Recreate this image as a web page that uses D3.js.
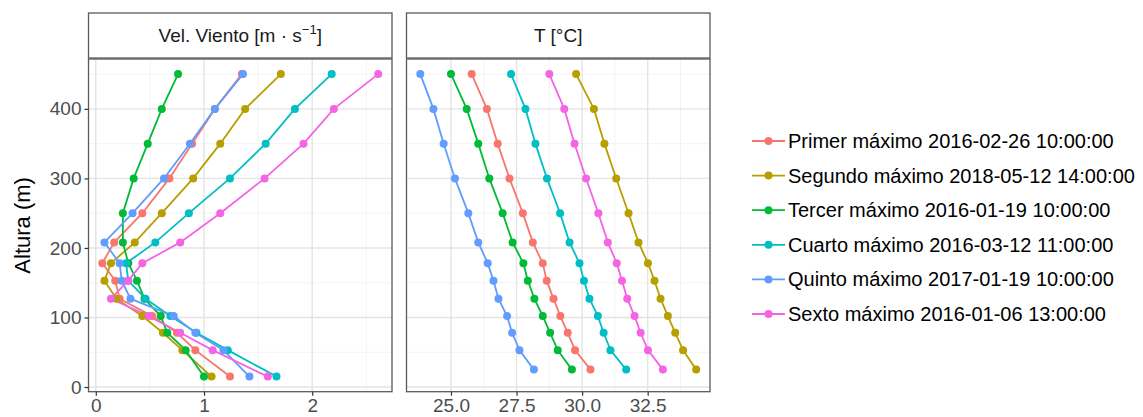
<!DOCTYPE html>
<html>
<head>
<meta charset="utf-8">
<script src="https://cdn.jsdelivr.net/npm/d3@7"></script>
<style>
  body { margin: 0; background: #fff; }
  text { font-family: "Liberation Sans", Arial, sans-serif; }
</style>
</head>
<body>
<svg width="1143" height="417"></svg>
<script>
// series names (legend order = ggplot factor order)
var series = [
	"Primer máximo 2016-02-26 10:00:00",
	"Segundo máximo 2018-05-12 14:00:00",
	"Tercer máximo 2016-01-19 10:00:00",
	"Cuarto máximo 2016-03-12 11:00:00",
	"Quinto máximo 2017-01-19 10:00:00",
	"Sexto máximo 2016-01-06 13:00:00"
];

// heights (m) of each level, top to bottom
var alturaViento = [450, 400, 350, 300, 250, 208, 178, 153, 127, 102, 78, 53, 15];
var alturaT = [450, 400, 350, 300, 250, 208, 178, 153, 127, 102, 78, 53, 25];

// wind speed [m/s] per series
var vientoPrimer = [1.35, 1.10, 0.89, 0.68, 0.43, 0.17, 0.06, 0.18, 0.22, 0.52, 0.75, 0.92, 1.24];
var vientoSegundo = [1.71, 1.38, 1.15, 0.90, 0.61, 0.36, 0.14, 0.08, 0.19, 0.43, 0.62, 0.80, 1.07];
var vientoTercer = [0.76, 0.61, 0.48, 0.35, 0.25, 0.25, 0.30, 0.38, 0.45, 0.60, 0.66, 0.83, 1.00];
var vientoCuarto = [2.18, 1.84, 1.57, 1.24, 0.86, 0.55, 0.28, 0.30, 0.46, 0.69, 0.93, 1.22, 1.67];
var vientoQuinto = [1.36, 1.10, 0.87, 0.63, 0.34, 0.08, 0.22, 0.24, 0.32, 0.72, 0.92, 1.18, 1.42];
var vientoSexto = [2.61, 2.20, 1.92, 1.56, 1.15, 0.78, 0.43, 0.30, 0.14, 0.49, 0.78, 1.08, 1.59];

// temperature [°C] per series
var tempPrimer = [25.79, 26.37, 26.78, 27.23, 27.74, 28.12, 28.50, 28.65, 28.91, 29.17, 29.45, 29.73, 30.32];
var tempSegundo = [29.77, 30.45, 30.85, 31.30, 31.77, 32.15, 32.51, 32.76, 32.99, 33.27, 33.55, 33.85, 34.35];
var tempTercer = [25.00, 25.60, 26.04, 26.46, 26.97, 27.35, 27.76, 27.93, 28.18, 28.50, 28.78, 29.07, 29.61];
var tempCuarto = [27.29, 27.84, 28.22, 28.66, 29.16, 29.52, 29.90, 30.07, 30.28, 30.60, 30.82, 31.08, 31.68];
var tempQuinto = [23.83, 24.33, 24.72, 25.15, 25.66, 26.04, 26.40, 26.62, 26.81, 27.14, 27.33, 27.61, 28.16];
var tempSexto = [28.75, 29.32, 29.71, 30.15, 30.62, 30.98, 31.32, 31.52, 31.72, 32.00, 32.23, 32.51, 33.08];

// tick values
var ticksY = [0, 100, 200, 300, 400];
var ticksViento = [0, 1, 2];
var ticksT = [25, 27.5, 30, 32.5];

function createGraph() {
	var svg = d3.select("svg");

	// ggplot default hue palette for 6 groups
	var color = d3.scaleOrdinal()
		.domain(series)
		.range(["#F8766D", "#B79F00", "#00BA38", "#00BFC4", "#619CFF", "#F564E3"]);

	var viento = [vientoPrimer, vientoSegundo, vientoTercer, vientoCuarto, vientoQuinto, vientoSexto];
	var temp = [tempPrimer, tempSegundo, tempTercer, tempCuarto, tempQuinto, tempSexto];

	// build one array of points per series for each panel
	var datosViento = series.map(function(s, i) {
		return { name: s, values: viento[i].map(function(v, j) { return { x: v, y: alturaViento[j] }; }) };
	});
	var datosT = series.map(function(s, i) {
		return { name: s, values: temp[i].map(function(v, j) { return { x: v, y: alturaT[j] }; }) };
	});

	// like ggplot: 5% expansion on each side
	function expand(ext) {
		var r = ext[1] - ext[0];
		return [ext[0] - 0.05 * r, ext[1] + 0.05 * r];
	}

	var panelTop = 59, panelBottom = 391.7, panelW = 303.5;
	var panels = [
		{ left: 88.5, datos: datosViento, ticks: ticksViento, fmt: d3.format("d"), minor: [0.5, 1.5, 2.5], titulo: "viento" },
		{ left: 406.5, datos: datosT, ticks: ticksT, fmt: d3.format(".1f"), minor: [26.25, 28.75, 31.25, 33.75], titulo: "T" }
	];

	var allY = alturaViento.concat(alturaT);
	var y = d3.scaleLinear()
		.domain(expand(d3.extent(allY)))
		.range([panelBottom, panelTop]);
	var minorY = [50, 150, 250, 350, 450];

	panels.forEach(function(p) {
		var allX = [];
		p.datos.forEach(function(d) { d.values.forEach(function(v) { allX.push(v.x); }); });
		var x = d3.scaleLinear()
			.domain(expand(d3.extent(allX)))
			.range([p.left, p.left + panelW]);

		var g = svg.append("g");

		// minor grid
		g.selectAll("line.minx").data(p.minor).enter().append("line")
			.attr("x1", function(d) { return x(d); }).attr("x2", function(d) { return x(d); })
			.attr("y1", panelTop).attr("y2", panelBottom)
			.attr("stroke", "#f2f2f2").attr("stroke-width", 0.9);
		g.selectAll("line.miny").data(minorY).enter().append("line")
			.attr("y1", function(d) { return y(d); }).attr("y2", function(d) { return y(d); })
			.attr("x1", p.left).attr("x2", p.left + panelW)
			.attr("stroke", "#f2f2f2").attr("stroke-width", 0.9);
		// major grid
		g.selectAll("line.majx").data(p.ticks).enter().append("line")
			.attr("x1", function(d) { return x(d); }).attr("x2", function(d) { return x(d); })
			.attr("y1", panelTop).attr("y2", panelBottom)
			.attr("stroke", "#e4e4e4").attr("stroke-width", 1.4);
		g.selectAll("line.majy").data(ticksY).enter().append("line")
			.attr("y1", function(d) { return y(d); }).attr("y2", function(d) { return y(d); })
			.attr("x1", p.left).attr("x2", p.left + panelW)
			.attr("stroke", "#e4e4e4").attr("stroke-width", 1.4);

		// lines first, then points
		var line = d3.line()
			.x(function(d) { return x(d.x); })
			.y(function(d) { return y(d.y); });
		g.selectAll("path.serie").data(p.datos).enter().append("path")
			.attr("fill", "none")
			.attr("stroke", function(d) { return color(d.name); })
			.attr("stroke-width", 1.8)
			.attr("d", function(d) { return line(d.values); });
		p.datos.forEach(function(d) {
			g.selectAll(null).data(d.values).enter().append("circle")
				.attr("cx", function(v) { return x(v.x); })
				.attr("cy", function(v) { return y(v.y); })
				.attr("r", 4)
				.attr("fill", color(d.name));
		});

		// panel border
		g.append("rect")
			.attr("x", p.left).attr("y", panelTop)
			.attr("width", panelW).attr("height", panelBottom - panelTop)
			.attr("fill", "none").attr("stroke", "#5a5a5a").attr("stroke-width", 1.3);

		// strip
		g.append("rect")
			.attr("x", p.left).attr("y", 13)
			.attr("width", panelW).attr("height", 45)
			.attr("fill", "#fff").attr("stroke", "#5a5a5a").attr("stroke-width", 1.3);
		var st = g.append("text")
			.attr("x", p.left + panelW / 2).attr("y", 42)
			.attr("text-anchor", "middle")
			.attr("font-size", 19).attr("fill", "#1a1a1a");
		if (p.titulo == "viento") {
			st.append("tspan").text("Vel. Viento [m \u00b7 s");
			st.append("tspan").attr("dy", -8).attr("font-size", 13).text("\u22121");
			st.append("tspan").attr("dy", 8).text("]");
		} else {
			st.text("T [\u00b0C]");
		}

		// x axis
		var ax = g.append("g")
			.attr("transform", "translate(0," + panelBottom + ")")
			.call(d3.axisBottom(x).tickValues(p.ticks).tickFormat(p.fmt).tickSize(4).tickPadding(3));
		ax.select(".domain").remove();
		ax.selectAll("line").attr("stroke", "#333").attr("stroke-width", 1.2);
		ax.selectAll("text").attr("font-size", 19).attr("fill", "#4d4d4d")
			.style("font-family", "'Liberation Sans', Arial, sans-serif");
	});

	// y axis (only on left panel)
	var ay = svg.append("g")
		.attr("transform", "translate(88.5,0)")
		.call(d3.axisLeft(y).tickValues(ticksY).tickSize(4).tickPadding(3));
	ay.select(".domain").remove();
	ay.selectAll("line").attr("stroke", "#333").attr("stroke-width", 1.2);
	ay.selectAll("text").attr("font-size", 19).attr("fill", "#4d4d4d")
		.style("font-family", "'Liberation Sans', Arial, sans-serif");

	// y title
	svg.append("text")
		.attr("transform", "translate(30," + ((panelTop + panelBottom) / 2) + ") rotate(-90)")
		.attr("text-anchor", "middle")
		.attr("font-size", 22)
		.attr("fill", "#000")
		.text("Altura (m)");

	// legend
	var leg = svg.selectAll("g.leg").data(series).enter().append("g")
		.attr("transform", function(d, i) { return "translate(752," + (141 + i * 34.6) + ")"; });
	leg.append("line")
		.attr("x1", 0).attr("x2", 33).attr("y1", 0).attr("y2", 0)
		.attr("stroke", function(d) { return color(d); }).attr("stroke-width", 1.8);
	leg.append("circle")
		.attr("cx", 16.5).attr("cy", 0).attr("r", 4)
		.attr("fill", function(d) { return color(d); });
	leg.append("text")
		.attr("x", 36).attr("y", 0).attr("dy", "0.35em")
		.attr("font-size", 20).attr("fill", "#000")
		.text(function(d) { return d; });
}
createGraph();
</script>
</body>
</html>
